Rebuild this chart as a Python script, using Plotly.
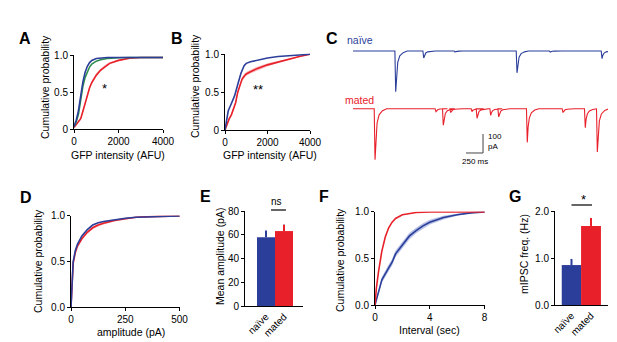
import plotly.graph_objects as go

W, H = 617, 342
FONT = "Liberation Sans, Arial, sans-serif"
BLUE = "#2b3e9a"
RED = "#e8202a"
GREEN = "#2f8f4e"
RED_BAND = "rgba(240,110,120,0.45)"
BLUE_BAND = "rgba(110,130,205,0.5)"

# ---------------- data ----------------
# A: GFP intensity CDFs
a_blue_x = [0, 100, 200, 300, 400, 500, 600, 700, 800, 1000, 1200, 1500, 2000, 4000]
a_blue_y = [0.03, 0.12, 0.25, 0.46, 0.64, 0.77, 0.85, 0.9, 0.93, 0.955, 0.965, 0.97, 0.97, 0.97]
a_green_x = [0, 100, 200, 300, 400, 500, 600, 700, 800, 1000, 1200, 1500, 2000, 2500, 4000]
a_green_y = [0.03, 0.1, 0.2, 0.4, 0.58, 0.7, 0.78, 0.84, 0.88, 0.92, 0.94, 0.955, 0.965, 0.97, 0.97]
a_red_x = [0, 100, 200, 300, 400, 500, 600, 700, 800, 1000, 1200, 1400, 1600, 2000, 2500, 3000, 4000]
a_red_y = [0.02, 0.06, 0.1, 0.14, 0.24, 0.36, 0.47, 0.56, 0.63, 0.73, 0.8, 0.85, 0.89, 0.93, 0.96, 0.97, 0.97]
a_red_sem = [0.0, 0.01, 0.015, 0.02, 0.025, 0.025, 0.025, 0.025, 0.025, 0.025, 0.02, 0.02, 0.015, 0.01, 0.005, 0.0, 0.0]

# B: GFP intensity CDFs
b_blue_x = [0, 50, 150, 300, 450, 600, 750, 900, 1000, 1200, 1500, 2000, 2500, 3000, 3500, 4000]
b_blue_y = [0.0, 0.1, 0.25, 0.35, 0.45, 0.6, 0.75, 0.85, 0.88, 0.9, 0.92, 0.95, 0.97, 0.98, 0.99, 1.0]
b_red_x = [0, 100, 200, 300, 400, 500, 600, 700, 800, 900, 1000, 1200, 1500, 2000, 2500, 3000, 3500, 4000]
b_red_y = [0.0, 0.08, 0.15, 0.2, 0.27, 0.36, 0.5, 0.6, 0.67, 0.71, 0.74, 0.77, 0.81, 0.86, 0.9, 0.94, 0.97, 1.0]
b_red_sem = [0.0, 0.01, 0.02, 0.02, 0.025, 0.025, 0.025, 0.025, 0.025, 0.025, 0.025, 0.025, 0.025, 0.02, 0.015, 0.01, 0.005, 0.0]

# C: example traces (event times in ms, amplitudes in pA)
naive_times = [628, 1040, 1500, 2412, 2900, 3662]
naive_amps = [215, 37, 6, 115, 6, 40]
mated_times = [324, 1220, 1328, 1437, 1750, 1824, 2025, 2143, 2563, 3088, 3416, 3593]
mated_amps = [268, 15, 87, 20, 15, 50, 35, 43, 177, 20, 100, 228]
trace_end = 3750

# D: amplitude CDFs
d_blue_x = [0, 2, 5, 10, 20, 30, 50, 75, 100, 125, 150, 200, 250, 300, 400, 500]
d_blue_y = [0.0, 0.15, 0.35, 0.5, 0.62, 0.69, 0.78, 0.85, 0.9, 0.925, 0.94, 0.96, 0.975, 0.985, 0.995, 1.0]
d_red_x = [0, 2, 5, 10, 20, 30, 50, 75, 100, 125, 150, 200, 250, 300, 400, 500]
d_red_y = [0.0, 0.14, 0.33, 0.48, 0.6, 0.67, 0.75, 0.82, 0.87, 0.9, 0.92, 0.95, 0.97, 0.985, 0.995, 1.0]
d_red_sem = [0.0, 0.01, 0.015, 0.015, 0.015, 0.015, 0.015, 0.015, 0.015, 0.015, 0.015, 0.01, 0.008, 0.005, 0.0, 0.0]

# E: mean amplitude
groups = ["naïve", "mated"]
e_mean = [58, 63]
e_sem = [5.5, 5.5]

# F: interval CDFs
f_red_x = [0, 0.1, 0.25, 0.5, 0.75, 1, 1.25, 1.5, 2, 2.5, 3, 4, 8]
f_red_y = [0.0, 0.18, 0.35, 0.58, 0.73, 0.83, 0.89, 0.93, 0.97, 0.985, 0.995, 1.0, 1.0]
f_blue_x = [0, 0.25, 0.5, 1, 1.25, 1.5, 2, 2.5, 3, 3.5, 4, 5, 6, 7, 8]
f_blue_y = [0.0, 0.14, 0.27, 0.4, 0.46, 0.55, 0.65, 0.74, 0.8, 0.85, 0.89, 0.94, 0.97, 0.99, 1.0]
f_blue_sem = [0.0, 0.02, 0.03, 0.035, 0.035, 0.035, 0.035, 0.035, 0.03, 0.03, 0.025, 0.02, 0.01, 0.005, 0.0]

# G: mIPSC frequency
g_mean = [0.85, 1.68]
g_sem = [0.13, 0.17]

# ---------------- helpers ----------------
def xd(a, b):
    return [a / W, b / W]

def yd(top, bottom):
    return [1 - bottom / H, 1 - top / H]

def px(x):
    return x / W

def py(y):
    return 1 - y / H

def band(xs, ys, sem, color, xa, ya):
    up = [y + s for y, s in zip(ys, sem)]
    lo = [y - s for y, s in zip(ys, sem)]
    return go.Scatter(x=list(xs) + list(xs)[::-1], y=up + lo[::-1], fill="toself",
                      fillcolor=color, line=dict(width=0), mode="lines",
                      hoverinfo="skip", xaxis=xa, yaxis=ya)

def line(xs, ys, color, xa, ya, w=1.6):
    return go.Scatter(x=xs, y=ys, mode="lines", line=dict(color=color, width=w),
                      xaxis=xa, yaxis=ya)

def build_trace(times, amps, offset):
    # vertices of each event: baseline, fast drop, slower recovery
    rel = [(-12, 0), (0, 1), (12, 0.55), (30, 0.28), (60, 0.12), (110, 0.04), (170, 0)]
    xs, ys = [0], [offset]
    for t, a in zip(times, amps):
        for dt, f in rel:
            xs.append(t + dt)
            ys.append(offset - a * f)
    xs.append(trace_end)
    ys.append(offset)
    return xs, ys

fig = go.Figure()

# A
fig.add_trace(band(a_red_x, a_red_y, a_red_sem, RED_BAND, "x", "y"))
fig.add_trace(line(a_red_x, a_red_y, RED, "x", "y"))
fig.add_trace(line(a_green_x, a_green_y, GREEN, "x", "y"))
fig.add_trace(line(a_blue_x, a_blue_y, BLUE, "x", "y"))
# B
fig.add_trace(band(b_red_x, b_red_y, b_red_sem, RED_BAND, "x2", "y2"))
fig.add_trace(line(b_red_x, b_red_y, RED, "x2", "y2"))
fig.add_trace(line(b_blue_x, b_blue_y, BLUE, "x2", "y2"))
# C
naive_offset, mated_offset = -121, -425
nx, ny = build_trace(naive_times, naive_amps, naive_offset)
mx, my = build_trace(mated_times, mated_amps, mated_offset)
fig.add_trace(line(nx, ny, BLUE, "x3", "y3", w=1.1))
fig.add_trace(line(mx, my, RED, "x3", "y3", w=1.1))
# D
fig.add_trace(band(d_red_x, d_red_y, d_red_sem, RED_BAND, "x4", "y4"))
fig.add_trace(line(d_red_x, d_red_y, RED, "x4", "y4"))
fig.add_trace(line(d_blue_x, d_blue_y, BLUE, "x4", "y4"))
# E
fig.add_trace(go.Bar(x=[0, 1], y=e_mean, width=1, marker=dict(color=[BLUE, RED], line=dict(width=0)),
                     error_y=dict(type="data", array=e_sem, arrayminus=[0, 0], symmetric=False,
                                  thickness=2, width=0, color=BLUE),
                     xaxis="x5", yaxis="y5"))
fig.add_trace(go.Bar(x=[1], y=[e_mean[1]], width=1, marker=dict(color=RED, line=dict(width=0)),
                     error_y=dict(type="data", array=[e_sem[1]], arrayminus=[0], symmetric=False,
                                  thickness=2, width=0, color=RED),
                     xaxis="x5", yaxis="y5"))
# F
fig.add_trace(band(f_blue_x, f_blue_y, f_blue_sem, BLUE_BAND, "x6", "y6"))
fig.add_trace(line(f_blue_x, f_blue_y, BLUE, "x6", "y6"))
fig.add_trace(line(f_red_x, f_red_y, RED, "x6", "y6"))
# G
fig.add_trace(go.Bar(x=[0, 1], y=g_mean, width=1, marker=dict(color=[BLUE, RED], line=dict(width=0)),
                     error_y=dict(type="data", array=g_sem, arrayminus=[0, 0], symmetric=False,
                                  thickness=2, width=0, color=BLUE),
                     xaxis="x7", yaxis="y7"))
fig.add_trace(go.Bar(x=[1], y=[g_mean[1]], width=1, marker=dict(color=RED, line=dict(width=0)),
                     error_y=dict(type="data", array=[g_sem[1]], arrayminus=[0], symmetric=False,
                                  thickness=2, width=0, color=RED),
                     xaxis="x7", yaxis="y7"))

ax = dict(showline=True, linecolor="black", linewidth=1, ticks="outside", ticklen=3,
          tickwidth=1, tickcolor="black", showgrid=False, zeroline=False, automargin=False,
          tickfont=dict(size=10, family=FONT, color="black"), fixedrange=True)

layout = dict(
    width=W, height=H, autosize=False, margin=dict(l=0, r=0, t=0, b=0, autoexpand=False),
    paper_bgcolor="white", plot_bgcolor="white", showlegend=False, barmode="overlay",
    font=dict(family=FONT, color="black"),
)
# A
layout["xaxis"] = dict(ax, domain=xd(66, 155), range=[0, 4000], tickvals=[0, 2000, 4000], anchor="y")
layout["yaxis"] = dict(ax, domain=yd(46.5, 121), range=[0, 1.01], tickvals=[0, 0.5, 1.0],
                       ticktext=["0", "0.5", "1.0"], anchor="x")
# B
layout["xaxis2"] = dict(ax, domain=xd(217, 302), range=[0, 4000], tickvals=[0, 2000, 4000], anchor="y2")
layout["yaxis2"] = dict(ax, domain=yd(45.5, 122), range=[0, 1.01], tickvals=[0, 0.5, 1.0],
                        ticktext=["0", "0.5", "1.0"], anchor="x2")
# C
layout["xaxis3"] = dict(domain=xd(345, 600), range=[0, trace_end], visible=False, anchor="y3")
layout["yaxis3"] = dict(domain=yd(20, 160), range=[-737, 0], visible=False, anchor="x3")
# D
layout["xaxis4"] = dict(ax, domain=xd(63, 172), range=[0, 502], tickvals=[0, 250, 500], anchor="y4")
layout["yaxis4"] = dict(ax, domain=yd(207.5, 299), range=[0, 1.005], tickvals=[0, 0.5, 1.0],
                        ticktext=["0.0", "0.5", "1.0"], anchor="x4")
# E
layout["xaxis5"] = dict(ax, domain=xd(237, 295), range=[-1.167, 2.056], tickvals=[0, 1],
                        ticktext=groups, tickangle=-45, ticks="", anchor="y5")
layout["yaxis5"] = dict(ax, domain=yd(203, 298), range=[0, 80], tickvals=[0, 20, 40, 60, 80], anchor="x5")
# F
layout["xaxis6"] = dict(ax, domain=xd(367, 477), range=[0, 8.03], tickvals=[0, 4, 8], anchor="y6")
layout["yaxis6"] = dict(ax, domain=yd(203.5, 297), range=[0, 1.005], tickvals=[0, 0.5, 1.0],
                        ticktext=["0.0", "0.5", "1.0"], anchor="x6")
# G
layout["xaxis7"] = dict(ax, domain=xd(547, 600), range=[-0.846, 1.872], tickvals=[0, 1],
                        ticktext=groups, tickangle=-45, ticks="", anchor="y7")
layout["yaxis7"] = dict(ax, domain=yd(203, 297), range=[0, 2.0], tickvals=[0, 1.0, 2.0],
                        ticktext=["0.0", "1.0", "2.0"], anchor="x7")
fig.update_layout(**layout)

ann = []
def letter(t, x, y):
    ann.append(dict(text=f"<b>{t}</b>", x=px(x), y=py(y), xref="paper", yref="paper",
                    showarrow=False, xanchor="left", yanchor="middle",
                    font=dict(size=16, family=FONT, color="black")))
for t, x, y in [("A", 9, 30), ("B", 161, 30), ("C", 316, 30), ("D", 10, 189),
                ("E", 190, 188), ("F", 309, 188), ("G", 499, 188)]:
    letter(t, x, y)

def txt(t, x, y, size=11, color="black", xanchor="center", angle=0):
    ann.append(dict(text=t, x=px(x), y=py(y), xref="paper", yref="paper", showarrow=False,
                    xanchor=xanchor, yanchor="middle", textangle=angle,
                    font=dict(size=size, family=FONT, color=color)))

# axis titles
TS = 10.5
txt("Cumulative probability", 37, 79, size=TS, angle=-90)
txt("GFP intensity (AFU)", 110, 147, size=TS)
txt("Cumulative probability", 187, 78, size=TS, angle=-90)
txt("GFP intensity (AFU)", 262, 147, size=TS)
txt("Cumulative probability", 30, 253, size=TS, angle=-90)
txt("amplitude (pA)", 123, 324, size=TS)
txt("Mean amplitude (pA)", 212, 249, size=TS, angle=-90)
txt("Cumulative probability", 332, 252, size=TS, angle=-90)
txt("Interval (sec)", 421, 322, size=TS)
txt("mIPSC freq. (Hz)", 516, 246, size=TS, angle=-90)

txt("*", 96, 81, size=13)
txt("**", 250, 82, size=13)
txt("naïve", 337, 32, size=10.5, color=BLUE, xanchor="left")
txt("mated", 335, 92, size=10.5, color=RED, xanchor="left")
ann.append(dict(text="100<br>pA", x=1960, y=-598, xref="x3", yref="y3", showarrow=False,
                xanchor="left", yanchor="middle", align="left",
                font=dict(size=8, family=FONT, color="black")))
ann.append(dict(text="250 ms", x=1790, y=-705, xref="x3", yref="y3", showarrow=False,
                xanchor="center", yanchor="middle", font=dict(size=8, family=FONT, color="black")))
txt("ns", 268, 193, size=10)
txt("*", 575, 191, size=13)
fig.update_layout(annotations=ann)

shapes = [
    # scale bar
    dict(type="line", xref="x3", yref="y3", x0=1912, x1=1912, y0=-658, y1=-558,
         line=dict(color="#444", width=1)),
    dict(type="line", xref="x3", yref="y3", x0=1662, x1=1912, y0=-658, y1=-658,
         line=dict(color="#444", width=1)),
    # significance lines
    dict(type="line", xref="x5", yref="paper", x0=0.28, x1=1.11, y0=py(202), y1=py(202),
         line=dict(color="black", width=1.2)),
    dict(type="line", xref="x7", yref="paper", x0=0.0, x1=1.05, y0=py(197), y1=py(197),
         line=dict(color="black", width=1.2)),
]
fig.update_layout(shapes=shapes)

fig.write_html("out.html")
